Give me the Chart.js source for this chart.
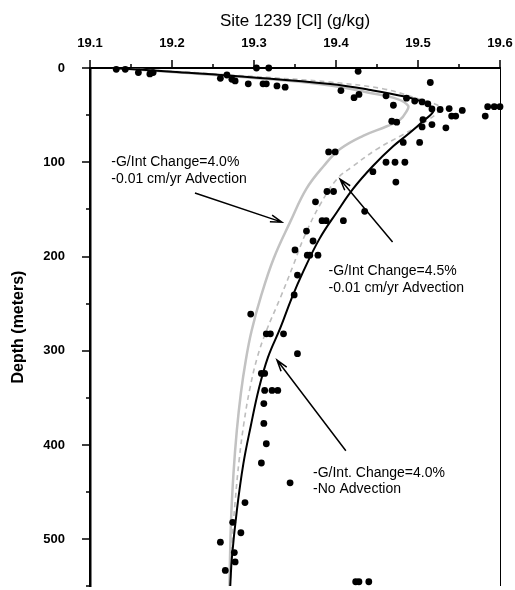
<!DOCTYPE html>
<html>
<head>
<meta charset="utf-8">
<script src="https://cdn.jsdelivr.net/npm/chart.js@4.4.0/dist/chart.umd.min.js"></script>
<style>
html, body { margin: 0; padding: 0; background: #fff; overflow: hidden; }
</style>
</head>
<body>
<canvas id="clChart" width="515" height="590"></canvas>
<script>
// measured pore water chloride (g/kg) and depth (m)
var obsCl = [19.132, 19.143, 19.159, 19.173, 19.177, 19.303, 19.318, 19.259, 19.267, 19.273,
  19.277, 19.293, 19.311, 19.315, 19.328, 19.338, 19.427, 19.515, 19.406, 19.422,
  19.428, 19.461, 19.470, 19.486, 19.496, 19.505, 19.512, 19.517, 19.527, 19.538,
  19.554, 19.541, 19.546, 19.582, 19.585, 19.593, 19.600, 19.506, 19.517, 19.505,
  19.534, 19.474, 19.468, 19.482, 19.502, 19.391, 19.399, 19.461, 19.472, 19.484,
  19.445, 19.473, 19.389, 19.397, 19.375, 19.435, 19.383, 19.388, 19.409, 19.364,
  19.372, 19.350, 19.365, 19.368, 19.378, 19.353, 19.349, 19.296, 19.315, 19.320,
  19.336, 19.353, 19.309, 19.313, 19.313, 19.322, 19.329, 19.312, 19.312, 19.315,
  19.309, 19.344, 19.289, 19.274, 19.284, 19.259, 19.276, 19.277, 19.265, 19.424,
  19.428, 19.440];
var obsDepth = [1.4, 1.4, 4.9, 6.3, 4.9, 0, 0, 11, 7.4, 12,
  13.7, 16.8, 16.8, 16.8, 19, 20.3, 3.5, 15.4, 24, 31.5,
  28, 29.5, 39.5, 32, 35, 36, 38, 43.5, 44, 43,
  45, 51, 51, 51, 41, 41, 41, 54.7, 60, 62.5,
  63.5, 57.5, 56.5, 79, 79, 89, 89, 100, 100, 100,
  110, 121, 131, 131, 142, 152, 162, 162, 162, 173,
  183.5, 193, 198.6, 198.6, 198.6, 219.7, 240.7, 261, 282, 282,
  282, 303, 324, 324, 342, 342, 342, 356, 377, 398.6,
  419, 440, 461, 482, 493, 503, 514, 524, 533, 545,
  545, 545];

// model: G/Int change 4.0%, no advection (black)
var noAdvCl = [19.128, 19.2, 19.3, 19.393, 19.44, 19.482, 19.508, 19.519, 19.506, 19.49,
  19.47, 19.445, 19.421, 19.401, 19.38, 19.36, 19.346, 19.332, 19.317, 19.306,
  19.296, 19.287, 19.279, 19.273, 19.271];
var noAdvDepth = [0, 4, 10, 17, 23, 30, 37, 45, 56.5, 68.8,
  82.8, 104, 128, 153, 181, 216, 244, 276, 307, 340,
  380, 420, 470, 520, 550];

// model: G/Int change 4.0%, 0.01 cm/yr advection (grey)
var adv40Cl = [19.128, 19.2, 19.3, 19.393, 19.445, 19.475, 19.488, 19.486, 19.478, 19.462,
  19.433, 19.405, 19.385, 19.364, 19.344, 19.324, 19.309, 19.297, 19.290, 19.284,
  19.279, 19.275, 19.272, 19.270];
var adv40Depth = [0, 4.3, 10.5, 18.5, 27, 33, 40, 46, 55, 61.8,
  72, 86, 104, 128, 163.5, 202, 240.7, 279, 310, 345,
  385, 430, 480, 550];

// model: G/Int change 4.5%, 0.01 cm/yr advection (grey dashed)
var adv45Cl = [19.128, 19.2, 19.3, 19.393, 19.457, 19.498, 19.523, 19.527, 19.51, 19.482,
  19.45, 19.421, 19.401, 19.38, 19.362, 19.348, 19.332, 19.315, 19.304, 19.295,
  19.288, 19.282, 19.277, 19.273, 19.271];
var adv45Depth = [0, 3.5, 9, 15, 22, 32, 39, 44, 56.5, 70.5,
  86, 104, 118, 146, 177.5, 209, 244, 279, 307, 340,
  375, 415, 460, 505, 550];

var xTicks = [19.1, 19.2, 19.3, 19.4, 19.5, 19.6];
var yTicks = [0, 100, 200, 300, 400, 500];

function pairs(xs, ys) {
  return xs.map(function (v, i) { return { x: v, y: ys[i] }; });
}

// annotation text and arrows, placed in data units
var notes = [
  { x: 19.126, y: 100, lines: ['-G/Int Change=4.0%', '-0.01 cm/yr Advection'] },
  { x: 19.391, y: 216, lines: ['-G/Int Change=4.5%', '-0.01 cm/yr Advection'] },
  { x: 19.372, y: 429.5, lines: ['-G/Int. Change=4.0%', '-No Advection'] }
];
var arrows = [
  { from: [19.228, 132.6], to: [19.334, 163.5] },
  { from: [19.469, 184.5], to: [19.405, 118] },
  { from: [19.412, 406], to: [19.328, 309.8] }
];

var notesPlugin = {
  id: 'notes',
  afterDraw: function (chart) {
    var ctx = chart.ctx;
    var xs = chart.scales.x, ys = chart.scales.y, area = chart.chartArea;
    ctx.save();
    ctx.strokeStyle = '#000';
    ctx.fillStyle = '#000';

    // right frame line
    ctx.lineWidth = 1;
    ctx.beginPath();
    ctx.moveTo(area.right + 0.5, area.top);
    ctx.lineTo(area.right + 0.5, area.bottom);
    ctx.stroke();

    // major and minor ticks
    ctx.lineWidth = 1.5;
    ctx.beginPath();
    for (var i = 0; i <= 10; i++) {
      var px = Math.round(xs.getPixelForValue(19.1 + i * 0.05));
      var len = i % 2 ? 4 : 8;
      ctx.moveTo(px, area.top);
      ctx.lineTo(px, area.top - len);
    }
    for (var d = 0; d <= 550; d += 50) {
      var py = Math.round(ys.getPixelForValue(d));
      var l2 = d % 100 ? 4 : 8;
      ctx.moveTo(area.left, py);
      ctx.lineTo(area.left - l2, py);
    }
    ctx.stroke();

    // text notes
    ctx.font = '14px "Liberation Sans", Arial, sans-serif';
    ctx.textBaseline = 'middle';
    ctx.textAlign = 'left';
    notes.forEach(function (n) {
      var x0 = xs.getPixelForValue(n.x), y0 = ys.getPixelForValue(n.y);
      n.lines.forEach(function (t, k) {
        ctx.fillText(t, x0, y0 + k * 16.5);
      });
    });

    // arrows with open heads
    ctx.lineWidth = 1.5;
    arrows.forEach(function (a) {
      var x1 = xs.getPixelForValue(a.from[0]), y1 = ys.getPixelForValue(a.from[1]);
      var x2 = xs.getPixelForValue(a.to[0]), y2 = ys.getPixelForValue(a.to[1]);
      var ang = Math.atan2(y2 - y1, x2 - x1);
      ctx.beginPath();
      ctx.moveTo(x1, y1);
      ctx.lineTo(x2, y2);
      ctx.moveTo(x2 - 12 * Math.cos(ang - 0.3), y2 - 12 * Math.sin(ang - 0.3));
      ctx.lineTo(x2, y2);
      ctx.lineTo(x2 - 12 * Math.cos(ang + 0.3), y2 - 12 * Math.sin(ang + 0.3));
      ctx.stroke();
    });
    ctx.restore();
  }
};

var tickFont = { family: '"Liberation Sans", Arial, sans-serif', size: 13, weight: 'bold' };

var clChart = new Chart(document.getElementById('clChart').getContext('2d'), {
  type: 'scatter',
  data: {
    datasets: [
      {
        label: 'Measured',
        data: pairs(obsCl, obsDepth),
        pointRadius: 3.4,
        pointBackgroundColor: '#000',
        pointBorderWidth: 0,
        clip: false
      },
      {
        label: 'G/Int 4.0%, no advection',
        data: pairs(noAdvCl, noAdvDepth),
        showLine: true,
        pointRadius: 0,
        borderColor: '#000',
        borderWidth: 2,
        tension: 0.4
      },
      {
        label: 'G/Int 4.5%, advection',
        data: pairs(adv45Cl, adv45Depth),
        showLine: true,
        pointRadius: 0,
        borderColor: '#bdbdbd',
        borderWidth: 1.6,
        borderDash: [5, 4],
        tension: 0.4
      },
      {
        label: 'G/Int 4.0%, advection',
        data: pairs(adv40Cl, adv40Depth),
        showLine: true,
        pointRadius: 0,
        borderColor: '#c2c2c2',
        borderWidth: 2.5,
        tension: 0.4
      }
    ]
  },
  options: {
    responsive: false,
    animation: false,
    layout: { padding: { left: 0, right: 15, top: 0, bottom: 0 } },
    plugins: { legend: { display: false }, tooltip: { enabled: false } },
    scales: {
      x: {
        type: 'linear',
        position: 'top',
        min: 19.1,
        max: 19.6,
        afterBuildTicks: function (s) { s.ticks = xTicks.map(function (v) { return { value: v }; }); },
        afterFit: function (s) { s.height = 68; s.paddingLeft = 0; s.paddingRight = 0; },
        grid: { display: false, drawTicks: false },
        border: { display: true, color: '#000', width: 2 },
        ticks: {
          color: '#000',
          font: tickFont,
          padding: 17,
          maxRotation: 0,
          callback: function (v) { return v.toFixed(1); }
        },
        title: {
          display: true,
          text: 'Site 1239 [Cl] (g/kg)',
          color: '#000',
          font: { family: '"Liberation Sans", Arial, sans-serif', size: 17 },
          padding: { top: 11, bottom: 0 }
        }
      },
      y: {
        type: 'linear',
        reverse: true,
        min: 0,
        max: 549.5,
        afterBuildTicks: function (s) { s.ticks = yTicks.map(function (v) { return { value: v }; }); },
        afterFit: function (s) { s.width = 90; s.paddingTop = 0; s.paddingBottom = 0; },
        grid: { display: false, drawTicks: false },
        border: { display: true, color: '#000', width: 2.5 },
        ticks: {
          color: '#000',
          font: tickFont,
          padding: 25
        },
        title: {
          display: true,
          text: 'Depth (meters)',
          color: '#000',
          font: { family: '"Liberation Sans", Arial, sans-serif', size: 16, weight: 'bold' },
          padding: { top: 9, bottom: 0 }
        }
      }
    }
  },
  plugins: [notesPlugin]
});
</script>
</body>
</html>
